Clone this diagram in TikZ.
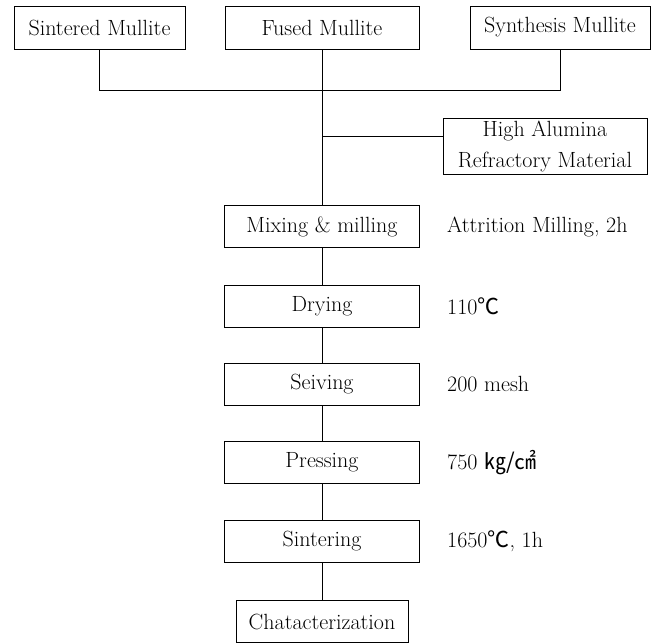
\documentclass[tikz,border=0pt]{standalone}
\usepackage{fontspec}
\usepackage{tikz}
\newfontfamily\cjk{Noto Sans CJK KR}

\tikzset{
    procbox/.style = {draw, rectangle, line width = 0.8pt, minimum height = 42pt, inner sep = 2pt, font = \fontsize{22}{31}\selectfont},
    sidenote/.style = {anchor = west, inner sep = 0pt, font = \fontsize{22}{26}\selectfont},
    link/.style = {line width = 0.8pt}
}

\begin{document}
\begin{tikzpicture}
        \useasboundingbox (0pt, 0pt) rectangle (657pt, -644pt);

        % Nodes
        \node [procbox, minimum width = 171pt, minimum height = 43pt] (sint) at (99.5pt, -27.5pt) {Sintered Mullite};
        \node [procbox, minimum width = 194pt, minimum height = 43pt] (fused) at (322pt, -27.5pt) {Fused Mullite};
        \node [procbox, minimum width = 180pt, minimum height = 43pt] (synth) at (560pt, -27.5pt) {Synthesis Mullite};
        \node [procbox, minimum width = 204pt, minimum height = 56pt, align = center] (alumina) at (545pt, -146pt) {High Alumina\\Refractory Material};

        \node [procbox, minimum width = 195pt] (mix) at (322pt, -226.5pt) {Mixing \& milling};
        \node [procbox, minimum width = 195pt] (dry) at (322pt, -306pt) {Drying};
        \node [procbox, minimum width = 195pt] (seiv) at (322pt, -384pt) {Seiving};
        \node [procbox, minimum width = 195pt] (press) at (322pt, -462.5pt) {Pressing};
        \node [procbox, minimum width = 195pt] (sinter) at (322pt, -541.5pt) {Sintering};
        \node [procbox, minimum width = 172pt] (chat) at (322pt, -621.5pt) {Chatacterization};

        % Conditions
        \node [sidenote] (mixcond) at (447pt, -226.5pt) {Attrition Milling, 2h};
        \node [sidenote] (drycond) at (447pt, -306pt) {110{\cjk ℃}};
        \node [sidenote] (seivcond) at (447pt, -384pt) {200 mesh};
        \node [sidenote] (presscond) at (447pt, -462.5pt) {750 {\cjk ㎏/㎠}};
        \node [sidenote] (sintercond) at (447pt, -541.5pt) {1650{\cjk ℃}, 1h};

        % Junctions
        \coordinate (bus) at (322pt, -90pt);
        \coordinate (tee) at (322pt, -136pt);

        % Draw the links
        \draw [link] (sint.south) -- (sint.south |- bus) -- (synth.south |- bus) -- (synth.south);
        \draw [link] (fused.south) -- (mix.north);
        \draw [link] (tee) -- (tee -| alumina.west);
        \draw [link] (mix.south) -- (dry.north);
        \draw [link] (dry.south) -- (seiv.north);
        \draw [link] (seiv.south) -- (press.north);
        \draw [link] (press.south) -- (sinter.north);
        \draw [link] (sinter.south) -- (chat.north);

    \end{tikzpicture}
\end{document}
